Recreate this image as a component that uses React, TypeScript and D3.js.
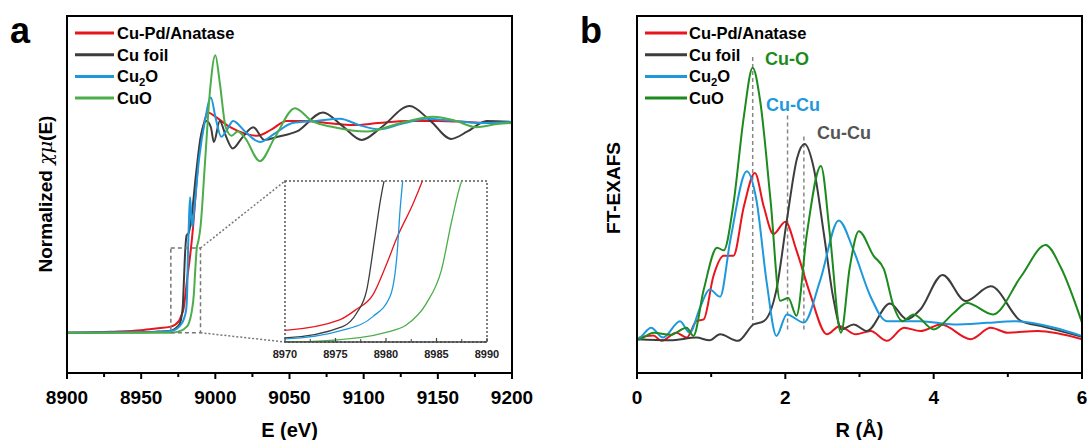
import React from 'react';
import * as d3 from 'd3';

type Pt = [number, number];

// legend labels
const sampleNames = ['Cu-Pd/Anatase', 'Cu foil', 'Cu2O', 'CuO'];

// XANES (panel a): [E (eV), normalized mu]
const xanesCuPd: Pt[] = [
  [8900, 0], [8930, 0.005], [8950, 0.012], [8960, 0.02], [8970, 0.029], [8975.4, 0.055],
  [8977, 0.08], [8978.7, 0.117], [8980, 0.19], [8981.1, 0.26], [8982.7, 0.345], [8983.6, 0.4],
  [8985, 0.5], [8987, 0.68], [8989, 0.85], [8992, 0.98], [8995, 1.04], [9000, 1.02],
  [9010, 0.97], [9020, 0.94], [9028, 0.93], [9038, 0.96], [9048, 1.0], [9060, 1.0],
  [9075, 0.99], [9093, 0.98], [9110, 0.99], [9130, 1.0], [9150, 1.0], [9170, 0.995],
  [9185, 0.99], [9200, 0.995],
];
const xanesFoil: Pt[] = [
  [8900, 0], [8940, 0.002], [8960, 0.005], [8970, 0.01], [8975.7, 0.038], [8977.1, 0.072],
  [8978.1, 0.13], [8978.9, 0.26], [8979.4, 0.345], [8980, 0.42], [8980.7, 0.46], [8982, 0.47],
  [8984, 0.55], [8987, 0.75], [8990, 0.92], [8994, 1.0], [8997, 0.97], [8999, 0.9],
  [9003, 1.0], [9007, 0.93], [9011.7, 0.87], [9018, 0.92], [9025.6, 0.97], [9033, 0.91],
  [9042, 0.925], [9055, 0.95], [9072.6, 1.04], [9085, 0.98], [9098.7, 0.91], [9112, 0.97],
  [9131, 1.07], [9145, 1.0], [9159, 0.915], [9170, 0.95], [9183, 1.0], [9200, 0.995],
];
const xanesCu2O: Pt[] = [
  [8900, 0], [8940, 0.002], [8960, 0.004], [8970, 0.008], [8975.8, 0.03], [8978.7, 0.063],
  [8980.4, 0.113], [8981.1, 0.22], [8981.4, 0.33], [8981.65, 0.4], [8982.3, 0.55], [8983, 0.64],
  [8983.6, 0.56], [8984.5, 0.5], [8986, 0.6], [8989, 0.82], [8993, 1.0], [8997, 1.11],
  [9000, 1.02], [9004, 0.925], [9008, 0.96], [9012, 1.0], [9020, 0.95], [9030, 0.9],
  [9040, 0.94], [9052, 0.99], [9068, 1.0], [9084, 1.01], [9097, 0.98], [9111, 0.96],
  [9125, 0.985], [9142.7, 1.01], [9160, 1.0], [9180, 0.99], [9200, 0.995],
];
const xanesCuO: Pt[] = [
  [8900, 0], [8950, 0], [8970, 0], [8977.4, 0.011], [8980, 0.024], [8982, 0.042],
  [8984, 0.096], [8985.5, 0.18], [8986.5, 0.3], [8987.5, 0.4], [8988.5, 0.43], [8990, 0.5],
  [8993, 0.8], [8996.5, 1.15], [9000, 1.31], [9003, 1.18], [9007, 0.97], [9011, 0.93],
  [9015, 0.95], [9020, 0.92], [9030, 0.81], [9040, 0.92], [9053.7, 1.06], [9065, 1.0],
  [9080, 0.97], [9102, 0.95], [9125, 0.99], [9147, 1.02], [9162, 1.0], [9176, 0.97],
  [9190, 0.985], [9200, 0.99],
];

// FT-EXAFS (panel b): [R (A), magnitude a.u.]
const exafsCuPd: Pt[] = [
  [0, 0.005], [0.04, 0.01], [0.22, 0.018], [0.33, -0.002], [0.53, 0.028], [0.67, 0.01],
  [0.8, 0.07], [0.9, 0.077], [1.03, 0.235], [1.17, 0.31], [1.3, 0.31], [1.44, 0.49],
  [1.59, 0.614], [1.71, 0.49], [1.84, 0.39], [2.0, 0.435], [2.15, 0.33], [2.33, 0.174],
  [2.56, 0.022], [2.73, 0.052], [2.95, 0.022], [3.15, 0.034], [3.37, -0.002], [3.6, 0.046],
  [3.82, 0.034], [4.1, 0.058], [4.5, 0.004], [4.77, 0.046], [5.0, 0.028], [5.4, 0.034],
  [6.0, 0.004],
];
const exafsFoil: Pt[] = [
  [0, 0.004], [0.45, 0.0], [0.8, 0.01], [0.98, 0.0], [1.12, 0.022], [1.36, -0.002],
  [1.57, 0.058], [1.71, 0.07], [1.88, 0.186], [2.02, 0.44], [2.16, 0.67], [2.26, 0.72],
  [2.38, 0.636], [2.52, 0.39], [2.65, 0.15], [2.76, 0.04], [2.92, 0.058], [3.1, 0.034],
  [3.41, 0.135], [3.64, 0.077], [3.82, 0.113], [4.12, 0.24], [4.43, 0.144], [4.77, 0.198],
  [5.18, 0.07], [5.45, 0.052], [6.0, 0.013],
];
const exafsCu2O: Pt[] = [
  [0, 0.005], [0.04, 0.01], [0.19, 0.046], [0.35, 0.01], [0.58, 0.07], [0.71, 0.028],
  [0.85, 0.12], [0.98, 0.186], [1.12, 0.16], [1.26, 0.37], [1.48, 0.62], [1.61, 0.515],
  [1.75, 0.21], [1.88, 0.016], [2.02, 0.095], [2.25, 0.065], [2.47, 0.22], [2.72, 0.44],
  [2.92, 0.33], [3.15, 0.16], [3.37, 0.07], [3.82, 0.07], [4.27, 0.058], [4.72, 0.064],
  [5.08, 0.07], [5.63, 0.046], [6.0, 0.016],
];
const exafsCuO: Pt[] = [
  [0, 0.002], [0.04, 0.004], [0.22, 0.028], [0.45, 0.02], [0.67, 0.046], [0.76, 0.016],
  [0.9, 0.186], [1.08, 0.34], [1.17, 0.33], [1.3, 0.5], [1.44, 0.82], [1.56, 1.0],
  [1.66, 0.88], [1.8, 0.515], [1.93, 0.145], [2.04, 0.155], [2.15, 0.09], [2.29, 0.39],
  [2.48, 0.64], [2.6, 0.39], [2.75, 0.028], [2.87, 0.27], [2.99, 0.4], [3.19, 0.31],
  [3.33, 0.26], [3.46, 0.125], [3.58, 0.07], [3.73, 0.095], [4.0, 0.04], [4.27, 0.1],
  [4.45, 0.137], [4.8, 0.095], [5.18, 0.235], [5.51, 0.35], [5.71, 0.27], [6.0, 0.065],
];

// axis ticks
const xanesTicks = [8900, 8950, 9000, 9050, 9100, 9150, 9200];
const xanesMinor = [8925, 8975, 9025, 9075, 9125, 9175];
const insetTicks = [8970, 8975, 8980, 8985, 8990];
const insetMinor = [8972.5, 8977.5, 8982.5, 8987.5];
const exafsTicks = [0, 2, 4, 6];
const exafsMinor = [1, 3, 5];

// bond guides in panel b: R, top, bottom
const bondR = [1.56, 2.03, 2.25];
const bondTop = [1.04, 0.825, 0.748];
const bondBottom = [0.058, 0.03, 0.03];

const RED = '#e8151d';
const DARK = '#3d3d3d';
const BLUE = '#1e98dc';
const GREEN_A = '#4cae4a';
const GREEN_B = '#1c8a1c';
const FONT = '"Liberation Sans", Arial, sans-serif';

const Label = ({ name, x, y, size }: { name: string; x: number; y: number; size: number }) => {
  if (name === 'Cu2O') {
    return (
      <text x={x} y={y} fontSize={size}>
        Cu<tspan fontSize={size * 0.68} dy={4}>2</tspan><tspan dy={-4}>O</tspan>
      </text>
    );
  }
  return <text x={x} y={y} fontSize={size}>{name}</text>;
};

export default function App() {
  // panel a
  const ax = d3.scaleLinear().domain([8900, 9200]).range([67, 512]);
  const ay = d3.scaleLinear().domain([-0.19, 1.495]).range([373, 16]);
  const ix = d3.scaleLinear().domain([8970, 8990]).range([285, 487]);
  const iy = d3.scaleLinear().domain([0, 0.4]).range([342, 181]);
  // panel b
  const bx = d3.scaleLinear().domain([0, 6]).range([637, 1082]);
  const by = d3.scaleLinear().domain([-0.12, 1.19]).range([373, 16]);

  const lineA = d3.line<Pt>().x(d => ax(d[0])).y(d => ay(d[1])).curve(d3.curveMonotoneX);
  const lineI = d3.line<Pt>().x(d => ix(d[0])).y(d => iy(d[1])).curve(d3.curveMonotoneX);
  const lineB = d3.line<Pt>().x(d => bx(d[0])).y(d => by(d[1])).curve(d3.curveMonotoneX);

  const xanes = [xanesCuPd, xanesFoil, xanesCu2O, xanesCuO];
  const exafs = [exafsCuPd, exafsFoil, exafsCu2O, exafsCuO];
  const colorsA = [RED, DARK, BLUE, GREEN_A];
  const colorsB = [RED, DARK, BLUE, GREEN_B];

  const [x0, x1] = ax.range();
  const [y1, y0] = ay.range();
  const [bx0, bx1] = bx.range();
  const [ix0, ix1] = ix.range();
  const [iy0, iy1] = iy.range();

  return (
    <svg width={1088} height={440} style={{ position: 'absolute', left: 0, top: 0, background: '#fff' }}
      fontFamily={FONT} fontWeight="bold">
      <defs>
        <clipPath id="clipA"><rect x={x0} y={y0} width={x1 - x0} height={y1 - y0} /></clipPath>
        <clipPath id="clipI"><rect x={ix0} y={iy1} width={ix1 - ix0} height={iy0 - iy1} /></clipPath>
        <clipPath id="clipB"><rect x={bx0} y={y0} width={bx1 - bx0} height={y1 - y0} /></clipPath>
      </defs>

      {/* ---------- panel a ---------- */}
      <text x={10} y={43} fontSize={36}>a</text>
      <g clipPath="url(#clipA)">
        {xanes.map((s, i) => (
          <path key={i} d={lineA(s) || ''} fill="none" stroke={colorsA[i]} strokeWidth={2} />
        ))}
      </g>

      {/* zoom box and connectors */}
      <rect x={ax(8970)} y={ay(0.4)} width={ax(8990) - ax(8970)} height={ay(0) - ay(0.4)}
        fill="none" stroke="#777" strokeWidth={1.5} strokeDasharray="4,3" />
      <line x1={ax(8990)} y1={ay(0.4)} x2={ix0} y2={iy1} stroke="#777" strokeWidth={1.5} strokeDasharray="2,2" />
      <line x1={ax(8990)} y1={ay(0)} x2={ix0} y2={iy0} stroke="#777" strokeWidth={1.5} strokeDasharray="2,2" />

      {/* inset */}
      <rect x={ix0} y={iy1} width={ix1 - ix0} height={iy0 - iy1} fill="#fff" stroke="#555"
        strokeWidth={1.5} strokeDasharray="2,2" />
      <g clipPath="url(#clipI)">
        {xanes.map((s, i) => (
          <path key={i} d={lineI(s) || ''} fill="none" stroke={colorsA[i]} strokeWidth={1.3} />
        ))}
      </g>
      <line x1={ix0} x2={ix1} y1={iy0} y2={iy0} stroke="#444" strokeWidth={1.5} />
      {insetTicks.map(t => (
        <g key={t}>
          <line x1={ix(t)} x2={ix(t)} y1={iy0} y2={iy0 - 4} stroke="#444" strokeWidth={1.2} />
          <text x={ix(t)} y={iy0 + 16} fontSize={11} textAnchor="middle" fill="#222">{t}</text>
        </g>
      ))}
      {insetMinor.map(t => (
        <line key={t} x1={ix(t)} x2={ix(t)} y1={iy0} y2={iy0 - 3} stroke="#444" strokeWidth={1} />
      ))}

      {/* frame & axis */}
      <rect x={x0} y={y0} width={x1 - x0} height={y1 - y0} fill="none" stroke="#000" strokeWidth={2} />
      {xanesTicks.map(t => (
        <g key={t}>
          <line x1={ax(t)} x2={ax(t)} y1={y1} y2={y1 + 6} stroke="#000" strokeWidth={2} />
          <text x={ax(t)} y={404} fontSize={19} textAnchor="middle">{t}</text>
        </g>
      ))}
      {xanesMinor.map(t => (
        <line key={t} x1={ax(t)} x2={ax(t)} y1={y1} y2={y1 + 4} stroke="#000" strokeWidth={2} />
      ))}
      <text x={(x0 + x1) / 2} y={437} fontSize={20} textAnchor="middle">E (eV)</text>
      <text transform="translate(52,194) rotate(-90)" fontSize={19} textAnchor="middle">
        Normalized <tspan fontStyle="italic" fontFamily='"DejaVu Serif", serif' fontWeight="normal">χμ</tspan>(E)
      </text>

      {/* legend a */}
      {sampleNames.map((n, i) => (
        <g key={n}>
          <line x1={75} x2={114} y1={33 + i * 21.7} y2={33 + i * 21.7} stroke={colorsA[i]} strokeWidth={3} />
          <Label name={n} x={117} y={39 + i * 21.7} size={16.5} />
        </g>
      ))}

      {/* ---------- panel b ---------- */}
      <text x={580} y={43} fontSize={36}>b</text>
      {bondR.map((r, i) => (
        <line key={r} x1={bx(r)} x2={bx(r)} y1={by(bondTop[i])} y2={by(bondBottom[i])}
          stroke="#888" strokeWidth={1.5} strokeDasharray="4,3" />
      ))}
      <g clipPath="url(#clipB)">
        {exafs.map((s, i) => (
          <path key={i} d={lineB(s) || ''} fill="none" stroke={colorsB[i]} strokeWidth={2} />
        ))}
      </g>
      <text x={765} y={65} fontSize={18} fill={GREEN_B}>Cu-O</text>
      <text x={766} y={111} fontSize={18} fill={BLUE}>Cu-Cu</text>
      <text x={817} y={139} fontSize={18} fill="#555">Cu-Cu</text>

      <rect x={bx0} y={y0} width={bx1 - bx0} height={y1 - y0} fill="none" stroke="#000" strokeWidth={2} />
      {exafsTicks.map(t => (
        <g key={t}>
          <line x1={bx(t)} x2={bx(t)} y1={y1} y2={y1 + 6} stroke="#000" strokeWidth={2} />
          <text x={bx(t)} y={404} fontSize={19} textAnchor="middle">{t}</text>
        </g>
      ))}
      {exafsMinor.map(t => (
        <line key={t} x1={bx(t)} x2={bx(t)} y1={y1} y2={y1 + 4} stroke="#000" strokeWidth={2} />
      ))}
      <text x={(bx0 + bx1) / 2} y={437} fontSize={20} textAnchor="middle">R (Å)</text>
      <text transform="translate(620,188) rotate(-90)" fontSize={19} textAnchor="middle">FT-EXAFS</text>

      {/* legend b */}
      {sampleNames.map((n, i) => (
        <g key={n}>
          <line x1={645} x2={687} y1={33 + i * 21.7} y2={33 + i * 21.7} stroke={colorsB[i]} strokeWidth={3} />
          <Label name={n} x={689} y={39 + i * 21.7} size={16.5} />
        </g>
      ))}
    </svg>
  );
}
